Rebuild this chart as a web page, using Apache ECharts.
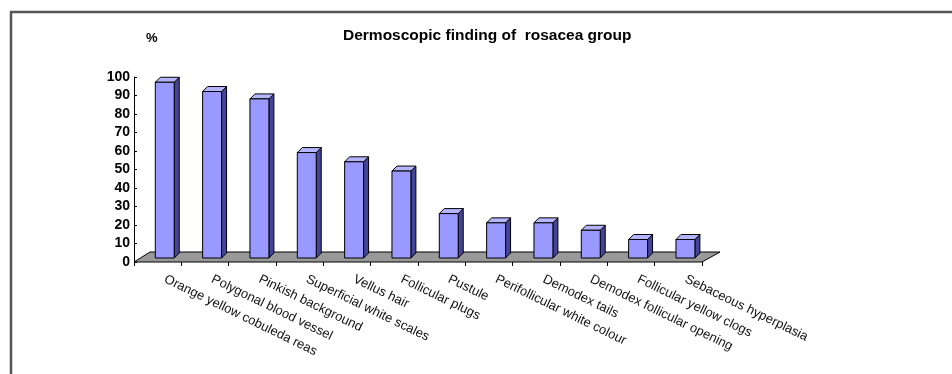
<!DOCTYPE html>
<html>
<head>
<meta charset="utf-8">
<script src="https://cdn.jsdelivr.net/npm/echarts@6/dist/echarts.min.js"></script>
<style>html,body{margin:0;padding:0;background:#fff}#c{width:952px;height:374px}</style>
</head>
<body>
<div id="c"></div>
<script>
const categories = [
  'Orange yellow cobuleda reas',
  'Polygonal blood vessel',
  'Pinkish background',
  'Superficial white scales',
  'Vellus hair',
  'Follicular plugs',
  'Pustule',
  'Perifollicular white colour',
  'Demodex tails',
  'Demodex follicular opening',
  'Follicular yellow clogs',
  'Sebaceous hyperplasia'
];
const values = [95, 90, 86, 57, 52, 47, 24, 19, 19, 15, 10, 10];
const yTickLabels = ['0','10','20','30','40','50','60','70','80','90','100'];
const titleText = 'Dermoscopic finding of  rosacea group';
const unitText = '%';

const FONT = 'Liberation Sans';
const chart = echarts.init(document.getElementById('c'), null, {renderer: 'canvas'});

function renderFloor(params, api) {
  const cs = params.coordSys;
  const fy = cs.y + cs.height, fx0 = cs.x, fx1 = cs.x + cs.width;
  return {
    type: 'polygon',
    shape: {points: [[fx0, fy], [fx1, fy], [fx1 + 18, fy - 10], [fx0 + 16, fy - 10]]},
    style: {fill: '#999999', stroke: '#000', lineWidth: 1}
  };
}

function renderBar(params, api) {
  const idx = api.value(0), v = api.value(1);
  const base = api.coord([idx, 0]);
  const top = api.coord([idx, v]);
  const bw = api.size([1, 0])[0];
  const fw = bw * 0.4;
  const shift = bw * 0.15;
  const drop = 4, d = 5;
  const x0 = base[0] + shift - fw / 2, x1 = x0 + fw;
  const yb = base[1] - drop, yt = top[1] - drop;
  return {
    type: 'group',
    children: [
      {type: 'polygon', shape: {points: [[x1, yb], [x1 + d, yb - d], [x1 + d, yt - d], [x1, yt]]},
       style: {fill: '#44449a', stroke: '#000', lineWidth: 1}},
      {type: 'polygon', shape: {points: [[x0, yt], [x0 + d, yt - d], [x1 + d, yt - d], [x1, yt]]},
       style: {fill: '#b4b4ff', stroke: '#000', lineWidth: 1}},
      {type: 'rect', shape: {x: x0, y: yt, width: fw, height: yb - yt},
       style: {fill: '#9999ff', stroke: '#000', lineWidth: 1}}
    ]
  };
}

chart.setOption({
  animation: false,
  backgroundColor: '#fff',
  title: {
    text: titleText, left: 338, top: 23,
    textStyle: {fontFamily: FONT, fontSize: 15.5, fontWeight: 'bold', color: '#000'}
  },
  grid: {left: 134, top: 77, width: 568, height: 185, containLabel: false},
  xAxis: {
    type: 'category', data: categories, boundaryGap: true,
    axisLine: {show: false},
    axisTick: {show: true, length: 4, lineStyle: {color: '#000'}},
    axisLabel: {interval: 0, rotate: -26, margin: 13, padding: [0, 0, 0, 8],
      fontFamily: FONT, fontSize: 13, color: '#111'}
  },
  yAxis: {
    type: 'value', min: 0, max: 100, interval: 10,
    splitLine: {show: false},
    axisLine: {show: true, lineStyle: {color: '#000', width: 1}},
    axisTick: {show: true, inside: true, length: 3, lineStyle: {color: '#000'}},
    axisLabel: {
      margin: 4, fontFamily: FONT, fontSize: 14, fontWeight: 'bold', color: '#000',
      formatter: function (val) { return yTickLabels[Math.round(val / 10)]; }
    }
  },
  graphic: [
    {type: 'polyline', shape: {points: [[11, 374], [11, 12], [952, 12]]},
     style: {stroke: '#555', lineWidth: 2.5, fill: null}, z: 100},
    {type: 'text', x: 146, y: 32,
     style: {text: unitText, fontFamily: FONT, fontSize: 13, fontWeight: 'bold', fill: '#000'}}
  ],
  series: [
    {type: 'custom', renderItem: renderFloor, data: [[0, 0]], z: 1, silent: true},
    {type: 'custom', renderItem: renderBar,
     data: values.map(function (v, i) { return [i, v]; }), z: 2,
     encode: {x: 0, y: 1}}
  ]
});
</script>
</body>
</html>
